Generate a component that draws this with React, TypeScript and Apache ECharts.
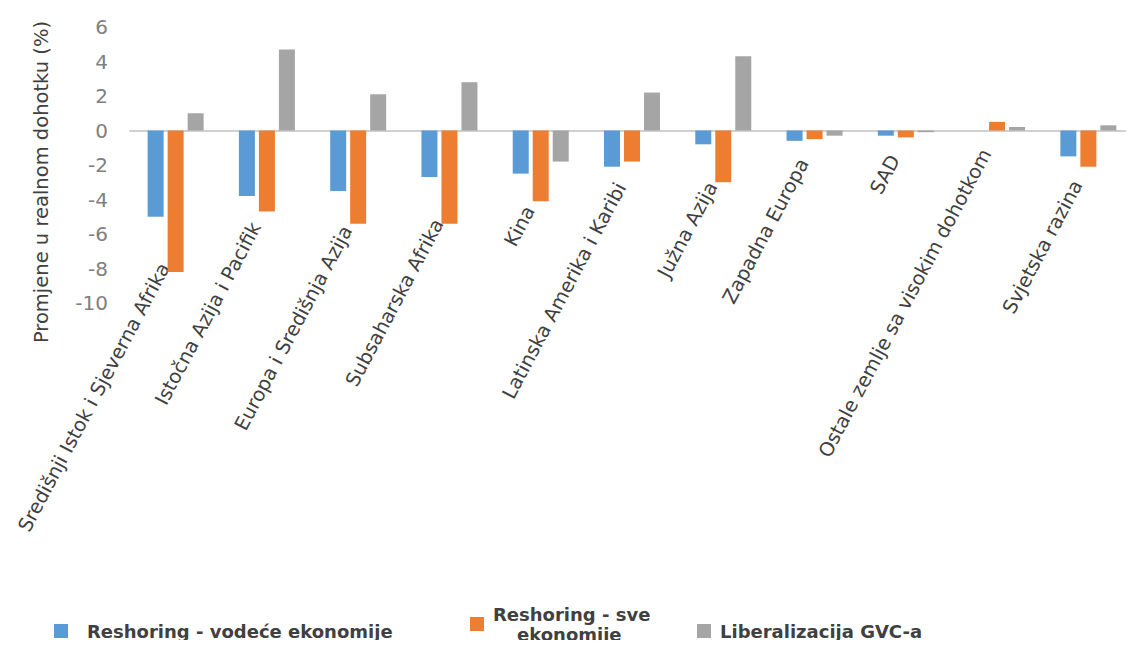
import React, { useEffect, useRef } from "react";
import * as echarts from "echarts";

const categories = [
  "Središnji Istok i Sjeverna Afrika",
  "Istočna Azija i Pacifik",
  "Europa i Središnja Azija",
  "Subsaharska Afrika",
  "Kina",
  "Latinska Amerika i Karibi",
  "Južna Azija",
  "Zapadna Europa",
  "SAD",
  "Ostale zemlje sa visokim dohotkom",
  "Svjetska razina",
];

const seriesNames = [
  "Reshoring - vodeće ekonomije",
  "Reshoring - sve ekonomije",
  "Liberalizacija GVC-a",
];

const reshoringLeading = [-5.0, -3.8, -3.5, -2.7, -2.5, -2.1, -0.8, -0.6, -0.3, 0, -1.5];
const reshoringAll = [-8.2, -4.7, -5.4, -5.4, -4.1, -1.8, -3.0, -0.5, -0.4, 0.5, -2.1];
const gvcLiberalization = [1.0, 4.7, 2.1, 2.8, -1.8, 2.2, 4.3, -0.3, -0.1, 0.2, 0.3];

const yMin = -10;
const yMax = 6;
const yInterval = 2;

const yAxisTitle = "Promjene u realnom dohotku (%)";

const FONT = "DejaVu Sans";
const colors = ["#5B9BD5", "#ED7D31", "#A5A5A5"];
const TEXT_DARK = "#404040";

export default function App() {
  const ref = useRef<HTMLDivElement>(null);

  useEffect(() => {
    if (!ref.current) return;
    const chart = echarts.init(ref.current, null, { renderer: "svg" });

    // label anchor: midpoint of the two reshoring bars (never above the zero line)
    const labelAnchors = categories.map((_, i) => [
      i,
      Math.min(0, (reshoringLeading[i] + reshoringAll[i]) / 2),
    ]);

    const legendText = {
      fontFamily: FONT,
      fontSize: 18,
      fontWeight: "bold",
      color: TEXT_DARK,
      lineHeight: 20,
    };

    const legendBase = {
      orient: "horizontal",
      icon: "rect",
      itemWidth: 14,
      itemHeight: 14,
      padding: 0,
      selectedMode: false,
    };

    const seriesData = [reshoringLeading, reshoringAll, gvcLiberalization];

    chart.setOption({
      animation: false,
      color: colors,
      grid: { left: 130, right: -12, top: 27, bottom: 345 },
      xAxis: {
        type: "category",
        data: categories,
        axisLine: { show: true, onZero: true, lineStyle: { color: "#D0D0D0", width: 2 } },
        axisTick: { show: false },
        axisLabel: { show: false },
        splitLine: { show: false },
      },
      yAxis: {
        type: "value",
        min: yMin,
        max: yMax,
        interval: yInterval,
        axisLine: { show: false },
        axisTick: { show: false },
        splitLine: { show: false },
        axisLabel: {
          fontFamily: FONT,
          fontSize: 20,
          color: "#808080",
          margin: 22,
        },
      },
      legend: [
        {
          ...legendBase,
          left: 54,
          top: 621,
          data: [seriesNames[0]],
          textStyle: { ...legendText, padding: [0, 0, 0, 14] },
        },
        {
          ...legendBase,
          left: 470,
          top: 604,
          data: [seriesNames[1]],
          formatter: () => "{a|Reshoring - sve}\n{b|ekonomije}",
          textStyle: {
            ...legendText,
            padding: [0, 0, 0, 4],
            rich: {
              a: { ...legendText, lineHeight: 20 },
              b: { ...legendText, lineHeight: 20, padding: [0, 0, 0, 24] },
            },
          },
        },
        {
          ...legendBase,
          left: 697,
          top: 621,
          data: [seriesNames[2]],
          textStyle: { ...legendText, padding: [0, 0, 0, 4] },
        },
      ],
      series: [
        ...seriesData.map((d, k) => ({
          name: seriesNames[k],
          type: "bar",
          data: d,
          barWidth: 16,
          barGap: "25%",
          itemStyle: { color: colors[k] },
        })),
        {
          type: "custom",
          silent: true,
          data: labelAnchors,
          clip: false,
          renderItem: (params: any, api: any) => {
            const idx = api.value(0);
            const p = api.coord([idx, api.value(1)]);
            return {
              type: "text",
              x: p[0] - 11,
              y: p[1] + 20,
              rotation: (62 * Math.PI) / 180,
              style: {
                text: categories[idx],
                align: "right",
                verticalAlign: "middle",
                fontFamily: FONT,
                fontSize: 19.5,
                fill: TEXT_DARK,
              },
            };
          },
        },
      ],
      graphic: [
        {
          type: "text",
          x: 41,
          y: 182,
          rotation: Math.PI / 2,
          style: {
            text: yAxisTitle,
            align: "center",
            verticalAlign: "middle",
            fontFamily: FONT,
            fontSize: 19.5,
            fill: TEXT_DARK,
          },
        },
      ],
    });

    return () => chart.dispose();
  }, []);

  return <div ref={ref} style={{ width: 1134, height: 648, margin: -8 }} />;
}
